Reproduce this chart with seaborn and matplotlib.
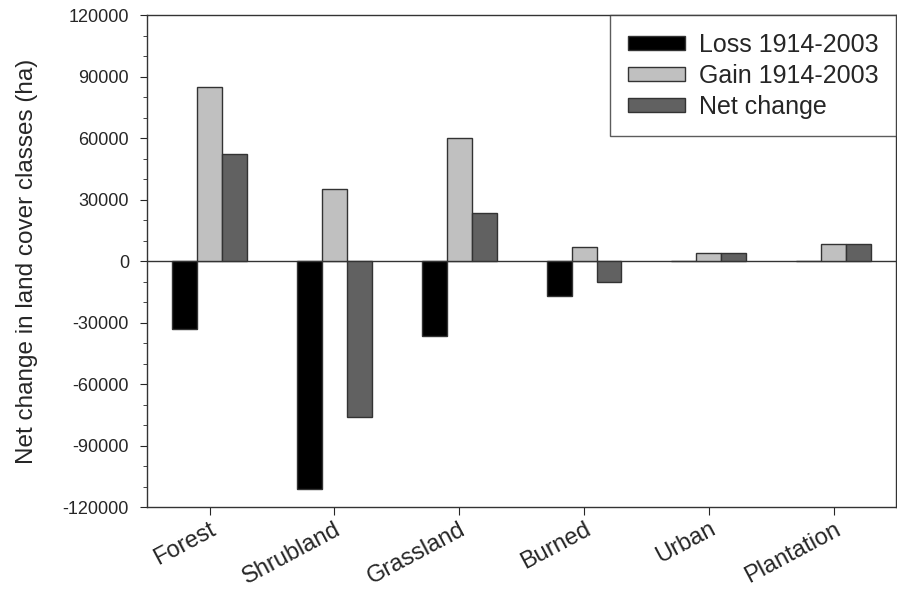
import numpy as np
import pandas as pd
import matplotlib
matplotlib.use("Agg")
import matplotlib.pyplot as plt
from matplotlib.ticker import MultipleLocator
import seaborn as sns

classes = ["Forest", "Shrubland", "Grassland", "Burned", "Urban", "Plantation"]
loss = [-33000, -111000, -36500, -17200, 0, 0]
gain = [85000, 35000, 60000, 6900, 3900, 8300]
net = [52000, -76000, 23500, -10300, 3900, 8300]
series = ["Loss 1914-2003", "Gain 1914-2003", "Net change"]
colors = ["#000000", "#c0c0c0", "#616161"]

df = pd.DataFrame({
    "cls": classes * 3,
    "value": loss + gain + net,
    "series": [series[0]] * 6 + [series[1]] * 6 + [series[2]] * 6,
})

sns.set_style("ticks")
plt.rcParams["font.family"] = ["Liberation Sans", "DejaVu Sans"]
plt.rcParams["axes.unicode_minus"] = False

fig = plt.figure(figsize=(8.97, 5.91), dpi=100)
ax = fig.add_axes([0.164, 0.142, 0.835, 0.8325])

sns.barplot(data=df, x="cls", y="value", hue="series", hue_order=series,
            palette=colors, width=0.6, edgecolor="#333333", linewidth=1.0,
            saturation=1, ax=ax)

ax.axhline(0, color="#333333", lw=1.0, zorder=0.5)
ax.set_xlim(-0.5, 5.5)
ax.set_ylim(-120000, 120000)
ax.yaxis.set_major_locator(MultipleLocator(30000))
ax.yaxis.set_minor_locator(MultipleLocator(10000))
ax.tick_params(axis="y", which="major", length=5, labelsize=13, pad=8, direction="out")
ax.tick_params(axis="y", which="minor", length=3, direction="out")
ax.tick_params(axis="x", length=6, labelsize=17, pad=2)
plt.setp(ax.get_xticklabels(), rotation=28, ha="right", rotation_mode="anchor")
ax.set_xlabel("")
ax.set_ylabel("Net change in land cover classes (ha)", fontsize=17.5, labelpad=18)
for s in ax.spines.values():
    s.set_color("#333333")
    s.set_linewidth(1.0)

leg = ax.legend(loc="upper right", fontsize=18, frameon=True, fancybox=False,
                borderaxespad=0, handlelength=2.3, handleheight=0.5,
                borderpad=0.7, labelspacing=0.28, handletextpad=0.55)
leg.get_frame().set_edgecolor("#333333")
leg.get_frame().set_linewidth(1.0)

fig.savefig("out.png", dpi=100)
